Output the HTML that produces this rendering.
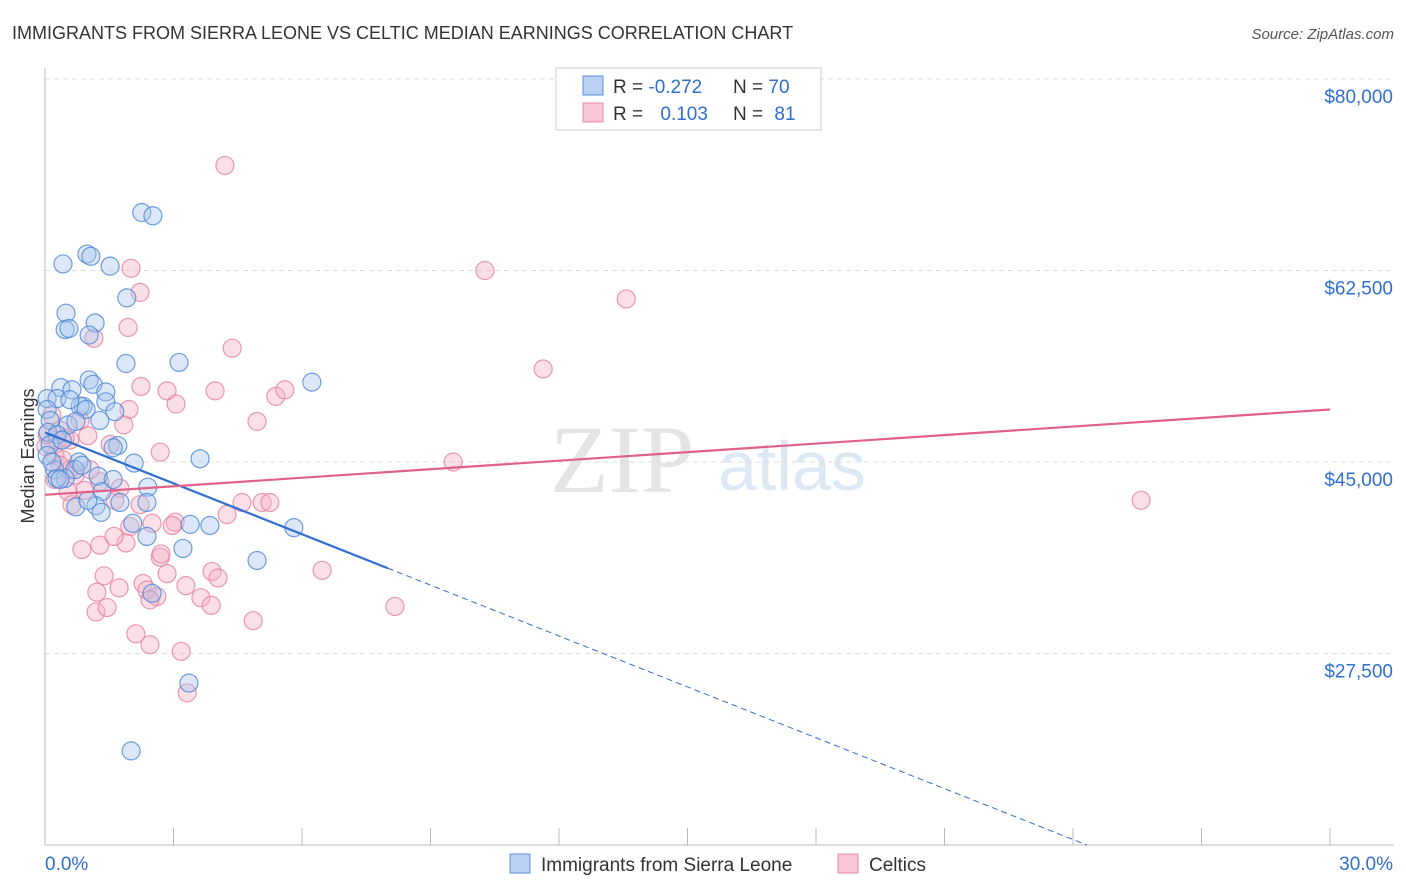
<!DOCTYPE html>
<html><head><meta charset="utf-8"><style>
body{margin:0;background:#fff;font-family:"Liberation Sans",sans-serif;}
#wrap{position:relative;width:1406px;height:892px;overflow:hidden;}
</style></head><body>
<div id="wrap">
<svg id="svg" width="1406" height="892" xmlns="http://www.w3.org/2000/svg">
<text x="12" y="39" font-size="18" fill="#333">IMMIGRANTS FROM SIERRA LEONE VS CELTIC MEDIAN EARNINGS CORRELATION CHART</text>
<text x="1394" y="39" font-size="15" fill="#555" font-style="italic" text-anchor="end">Source: ZipAtlas.com</text>
<text x="34" y="456" font-size="18" fill="#333" text-anchor="middle" transform="rotate(-90 34 456)">Median Earnings</text>
<text x="550" y="492" font-size="96" fill="#e4e4e4" font-family="Liberation Serif,serif">ZIP</text>
<text x="718" y="490" font-size="70" fill="#dde8f5">atlas</text>
<g id="grid"></g><g id="marks"></g>
<g>
<rect x="556" y="68" width="265" height="62" fill="#fff" stroke="#ccc"/>
<rect x="583" y="76" width="20" height="19" fill="#b8d1f3" stroke="#5b8fd8"/>
<rect x="583" y="103" width="20" height="19" fill="#f8c6d4" stroke="#e88aa8"/>
<text x="613" y="93" font-size="19" fill="#333">R = <tspan fill="#2f6fd0">-0.272</tspan></text>
<text x="733" y="93" font-size="19" fill="#333">N = <tspan fill="#2f6fd0">70</tspan></text>
<text x="613" y="120" font-size="19" fill="#333">R = <tspan fill="#2f6fd0" dx="12">0.103</tspan></text>
<text x="733" y="120" font-size="19" fill="#333">N = <tspan fill="#2f6fd0" dx="6">81</tspan></text>
</g>
<g>
<rect x="510" y="854" width="20" height="19" fill="#b8d1f3" stroke="#5b8fd8"/>
<text x="541" y="871" font-size="19" fill="#333">Immigrants from Sierra Leone</text>
<rect x="838" y="854" width="20" height="19" fill="#f8c6d4" stroke="#e88aa8"/>
<text x="869" y="871" font-size="19" fill="#333">Celtics</text>
</g>
</svg></div>
<script>
const yTicks=[27500,45000,62500,80000];
const yTickLabels=["$27,500","$45,000","$62,500","$80,000"];
const xTickLabels=["0.0%","30.0%"];
const blueX=[2.26,2.52,0.42,0.98,1.07,1.52,1.91,0.49,1.17,0.47,0.56,1.03,1.89,3.13,6.23,0.37,1.03,1.12,0.63,1.42,0.05,0.28,0.89,0.82,0.96,1.42,1.63,0.05,0.12,0.54,0.72,0.07,0.28,1.70,1.59,2.08,3.62,0.79,0.70,0.23,0.47,1.24,1.59,2.40,0.28,1.33,1.75,2.38,0.72,1.19,1.31,2.05,3.39,3.85,2.38,5.81,3.22,4.95,2.50,3.36,2.01,0.12,0.05,0.40,0.16,0.86,0.58,1.28,0.35,1.00];
const blueY=[67.8,67.5,63.1,64.0,63.8,62.9,60.0,58.6,57.7,57.1,57.2,56.6,54.0,54.1,52.3,51.8,52.5,52.1,51.6,51.4,50.8,50.8,50.1,50.1,49.8,50.5,49.6,49.8,48.8,48.4,48.7,47.7,47.5,46.5,46.3,44.9,45.3,45.0,44.3,44.3,43.5,43.7,43.4,42.7,43.5,42.3,41.3,41.3,40.9,41.0,40.4,39.4,39.3,39.2,38.2,39.0,37.1,36.0,33.0,24.8,18.6,46.6,45.6,47.0,45.0,44.7,50.7,48.8,43.4,41.5];
const pinkX=[4.20,10.27,2.01,2.22,13.57,1.94,1.14,4.37,11.63,2.24,2.85,3.97,3.06,5.39,5.60,1.96,4.95,1.84,0.16,0.35,0.58,1.00,1.52,0.23,0.42,0.70,0.93,1.28,1.75,9.53,25.59,4.60,5.07,5.25,4.25,3.04,2.50,1.98,2.97,0.86,1.28,1.89,1.61,2.69,2.71,6.47,3.90,4.04,1.38,2.85,1.21,1.73,2.29,2.38,2.61,3.29,3.64,8.17,1.19,1.45,3.88,4.86,2.12,2.45,3.18,3.32,0.54,0.58,0.28,0.02,0.82,0.47,1.63,1.05,2.22,0.35,2.45,0.23,0.63,0.05,2.69];
const pinkY=[72.1,62.5,62.7,60.5,59.9,57.3,56.3,55.4,53.5,51.9,51.5,51.5,50.3,51.0,51.6,49.8,48.7,48.4,49.3,47.9,47.0,47.4,46.6,45.6,45.2,43.8,42.4,43.2,42.6,45.0,41.5,41.3,41.3,41.3,40.2,39.5,39.4,39.1,39.2,37.0,37.4,37.6,38.2,36.3,36.6,35.1,35.0,34.4,34.6,34.8,33.1,33.5,33.9,33.3,32.7,33.7,32.6,31.8,31.3,31.7,31.9,30.5,29.3,28.3,27.7,23.9,42.3,44.3,47.0,46.4,48.8,47.2,41.5,44.3,41.1,44.7,32.4,43.4,41.1,47.5,45.9];
const blueTrend=[47.7,-1.55];
const pinkTrend=[42.0,0.26];
const X0=45,X1=1330,Y0=845,Y1=79;
const sx=v=>X0+(v/30)*(X1-X0);
const sy=v=>Y0-((v-10)/70)*(Y0-Y1);
const NS="http://www.w3.org/2000/svg";
function mk(t,a,p){const e=document.createElementNS(NS,t);for(const k in a)e.setAttribute(k,a[k]);p.appendChild(e);return e;}
const grid=document.getElementById('grid'),marks=document.getElementById('marks');
yTicks.forEach((t,i)=>{
 const g=mk('line',{x1:45,x2:1394,y1:sy(t/1000),y2:sy(t/1000),stroke:'#ddd','stroke-dasharray':'5,4'},grid);
 
 
 const l=mk('text',{x:1393,y:sy(t/1000)+24,'font-size':19,fill:'#2f6fd0','text-anchor':'end'},grid);
 l.textContent=yTickLabels[i];
 
 
});
const ax=mk('line',{x1:45,x2:45,y1:68,y2:845,stroke:'#bbb'},grid);


const bx=mk('line',{x1:45,x2:1394,y1:845,y2:845,stroke:'#bbb'},grid);


for(let i=0;i<=10;i++){
 const t=mk('line',{x1:sx(i*3),x2:sx(i*3),y1:828,y2:845,stroke:'#bbb'},grid);
 
 
}
[[0,45,'start'],[1,1393,'end']].forEach(([i,x,a])=>{
 const l=mk('text',{x:x,y:870,'font-size':19,fill:'#2f6fd0','text-anchor':a},grid);
 l.textContent=xTickLabels[i];
 
 
});
function pts(X,Y,fill,stroke,name){
 X.forEach((x,i)=>{
  const c=mk('circle',{cx:sx(x),cy:sy(Y[i]),r:9,fill:fill,'fill-opacity':0.4,stroke:stroke,'stroke-opacity':0.8,'stroke-width':1.2},marks);
  
  
 });
}
pts(pinkX,pinkY,'#f4aec3','#e5809f','celtics-point');
pts(blueX,blueY,'#a7c6ee','#4a86d6','sierra-leone-point');
const bEnd=8, bZero=Math.min(30,(blueTrend[0]-10)/-blueTrend[1]);
const l1=mk('line',{x1:sx(0),y1:sy(blueTrend[0]),x2:sx(bEnd),y2:sy(blueTrend[0]+blueTrend[1]*bEnd),stroke:'#2f6fd0','stroke-width':2.2},marks);


const l2=mk('line',{x1:sx(bEnd),y1:sy(blueTrend[0]+blueTrend[1]*bEnd),x2:sx(bZero),y2:sy(blueTrend[0]+blueTrend[1]*bZero),stroke:'#2f6fd0','stroke-width':1,'stroke-dasharray':'6,4'},marks);


const l3=mk('line',{x1:sx(0),y1:sy(pinkTrend[0]),x2:sx(30),y2:sy(pinkTrend[0]+pinkTrend[1]*30),stroke:'#e0608a','stroke-width':2.2},marks);


</script>
</body></html>
